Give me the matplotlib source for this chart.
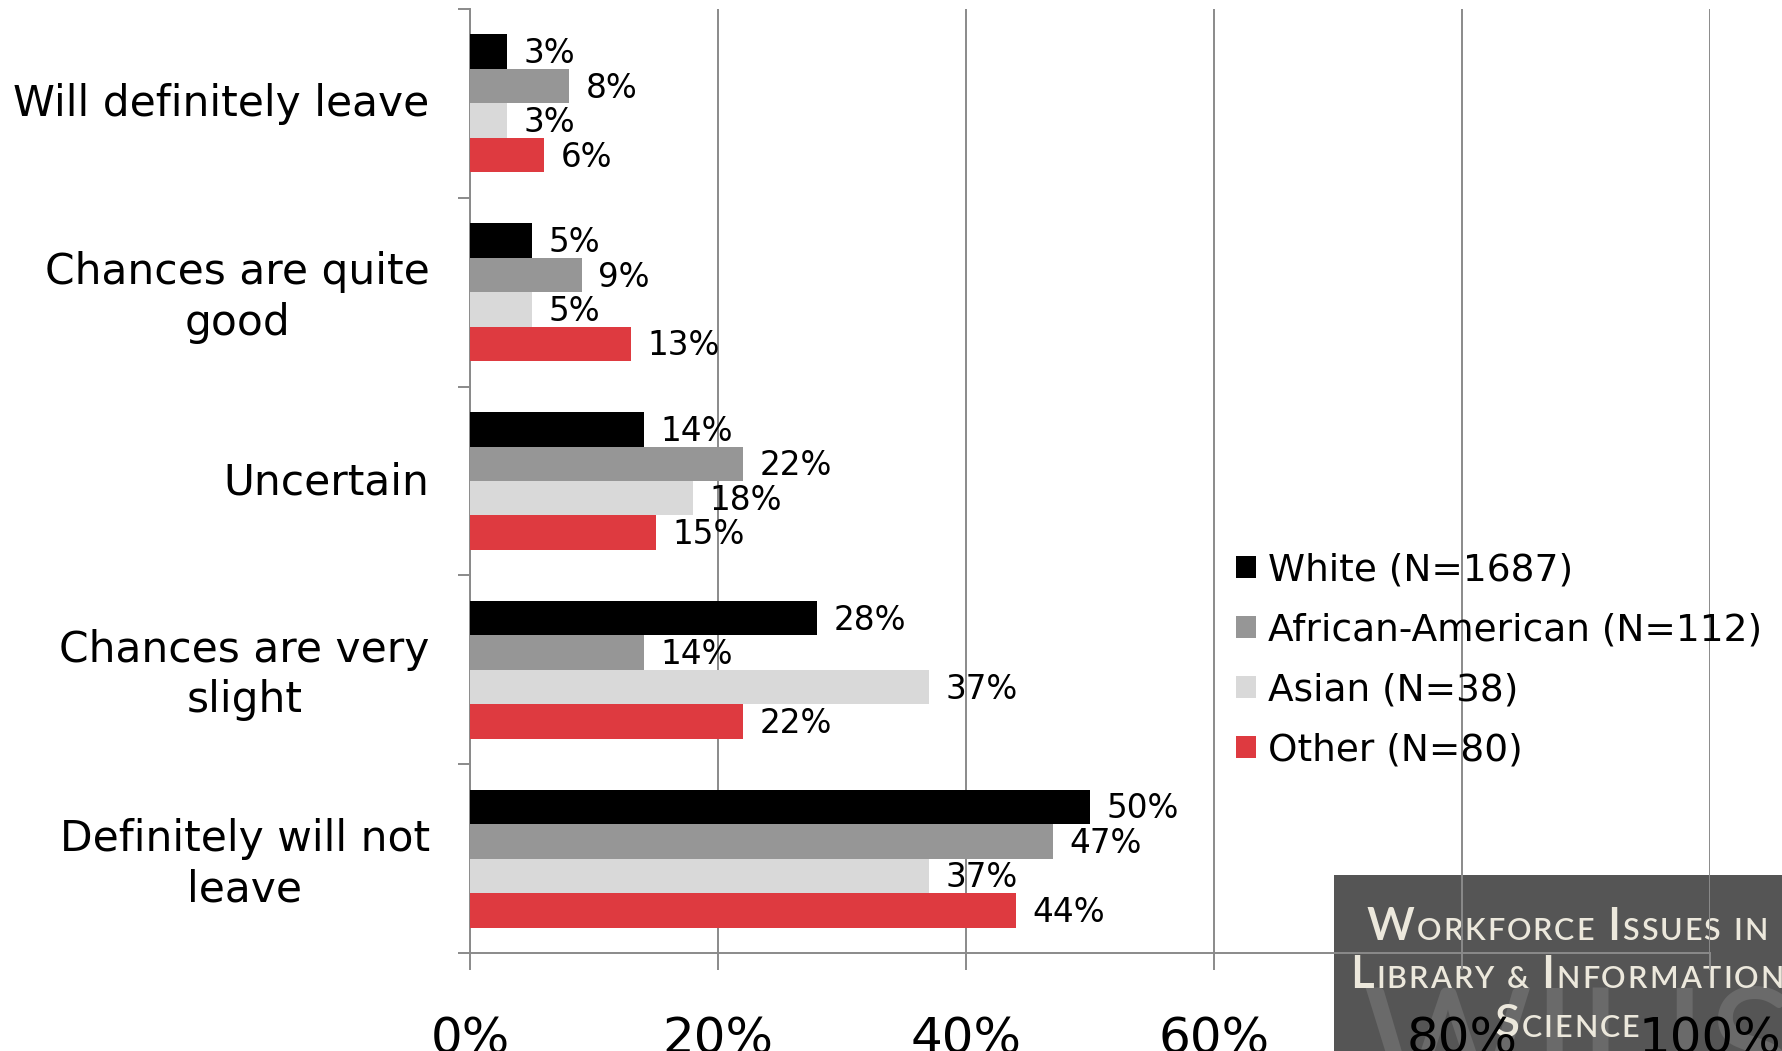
import matplotlib
matplotlib.use("Agg")
import matplotlib.pyplot as plt
from matplotlib.patches import Rectangle
from matplotlib.transforms import IdentityTransform, ScaledTranslation

plt.rcParams['font.family'] = ['DejaVu Sans']

categories = ["Will definitely leave", "Chances are quite\ngood", "Uncertain",
              "Chances are very\nslight", "Definitely will not\nleave"]
groups = ["White (N=1687)", "African-American (N=112)", "Asian (N=38)", "Other (N=80)"]
white = [3, 5, 14, 28, 50]
african_american = [8, 9, 22, 14, 47]
asian = [3, 5, 18, 37, 37]
other = [6, 13, 15, 22, 44]
series = [white, african_american, asian, other]
colors = ["#000000", "#969696", "#d9d9d9", "#de3a40"]
xticks = [0, 20, 40, 60, 80, 100]

W, H = 1783, 1051
fig = plt.figure(figsize=(W / 100, H / 100), dpi=100)
ax = fig.add_axes([470 / W, 98 / H, 1240 / W, 944 / H])
ax.patch.set_alpha(0)

gray = "#8a8a8a"
h = 0.1825
for i, vals in enumerate(series):
    ys = [c + (i - 1.5) * h for c in range(len(categories))]
    ax.barh(ys, vals, height=h, color=colors[i], label=groups[i], zorder=3)
    for y, v in zip(ys, vals):
        ax.annotate(f"{v}%", (v, y), xytext=(12, -1.5), textcoords="offset points",
                    va="center", ha="left", fontsize=23.5, zorder=4)

ax.set_xlim(0, 100)
ax.set_ylim(len(categories) - 0.5, -0.5)
ax.set_xticks(xticks)
ax.set_xticklabels([f"{t}%" for t in xticks], fontsize=36)
ax.tick_params(axis="x", direction="out", length=12, width=1.4, color=gray, pad=33)
ax.set_yticks([c - 0.5 for c in range(len(categories) + 1)])
ax.set_yticklabels([])
ax.tick_params(axis="y", which="major", direction="out", length=9, width=1.4, color=gray)
ax.set_yticks(range(len(categories)), minor=True)
ax.set_yticklabels(categories, minor=True, fontsize=30.5, multialignment="center",
                   linespacing=1.26)
ax.tick_params(axis="y", which="minor", length=0, pad=29)
# nudge the category labels up a little
up = ScaledTranslation(0, 2.5 / 72, fig.dpi_scale_trans)
for lab in ax.get_yticklabels(minor=True):
    lab.set_transform(lab.get_transform() + up)
ax.grid(axis="x", color=gray, linewidth=1.4, zorder=0)
ax.set_axisbelow(True)
for s in ["top", "right"]:
    ax.spines[s].set_visible(False)
for s in ["left", "bottom"]:
    ax.spines[s].set_color(gray)
    ax.spines[s].set_linewidth(1.4)

ax.legend(loc="center left", bbox_to_anchor=(1236 / W, 391 / H),
          bbox_transform=fig.transFigure, frameon=False, fontsize=27,
          handlelength=0.54, handleheight=0.54, handletextpad=0.3,
          labelspacing=0.64, borderpad=0, borderaxespad=0)

# logo block in the lower right corner
fig.patches.append(Rectangle((1334, 0), W - 1334, H - 875, transform=IdentityTransform(),
                             facecolor="#555555", edgecolor="none", zorder=-2))
fig.text(1362, -55, "WILIS", transform=IdentityTransform(), fontsize=118,
         color="#6a6a6a", family="Lato", zorder=-1.5)

renderer = fig.canvas.get_renderer()
cream = "#ece8dc"


def caps_line(words, cx, y_base, big, small, track=2.0):
    chars = []
    for w in words:
        for k, ch in enumerate(w):
            size = big if (k == 0 and ch.isupper()) else small
            chars.append((ch.upper(), size))
        chars.append(None)
    chars.pop()
    texts, x = [], 0
    for c in chars:
        if c is None:
            x += big * 0.33
            continue
        t = fig.text(x, H - y_base, c[0], transform=IdentityTransform(), fontsize=c[1],
                     color=cream, family="Lato", weight="semibold", va="baseline",
                     zorder=-1)
        bb = t.get_window_extent(renderer)
        texts.append((t, x))
        x += bb.width + track
    shift = cx - (x - track) / 2
    for t, x0 in texts:
        t.set_x(x0 + shift)


caps_line(["Workforce", "Issues", "in"], 1567, 940, 33, 22)
caps_line(["Library", "&", "Information"], 1567, 988, 33, 22)
caps_line(["Science"], 1567, 1037, 33, 22)

fig.savefig("out.png", dpi=100)
